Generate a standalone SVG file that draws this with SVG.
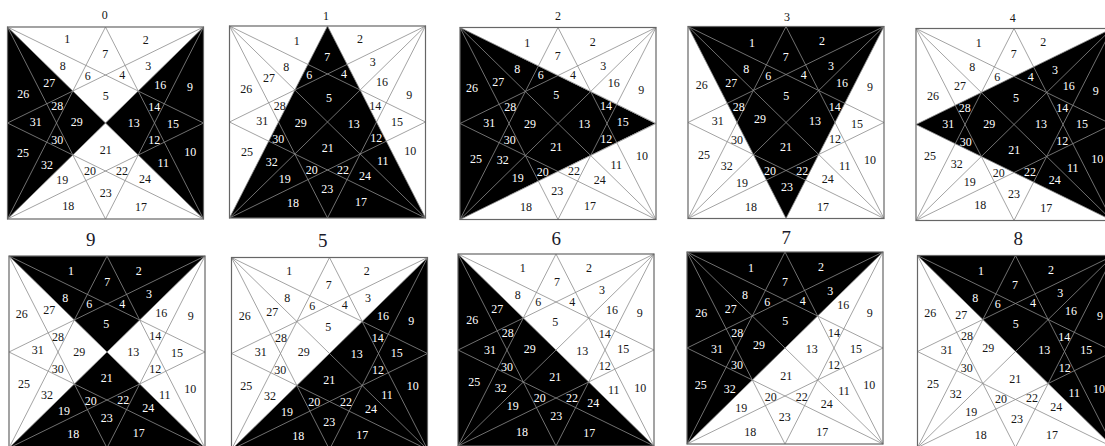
<svg xmlns="http://www.w3.org/2000/svg" width="1105" height="446" viewBox="0 0 1105 446">
<style>
.k{fill:#000;stroke:none}
.ln{stroke:#8c8c8c;stroke-width:.8;fill:none}
.box{stroke:#666;stroke-width:1.2;fill:none}
.t text{font-family:"Liberation Serif","Times New Roman",serif;font-size:36px;fill:#151515;text-anchor:middle;dominant-baseline:central}
.t text.w{fill:#fff}
.t text.s{fill:#1a1a2a;font-size:57px}
</style>
<defs>
<g id="star">
<path class="ln" d="M0 0L196 192M196 0L0 192M0 0L196 96M0 0L98 192M196 0L0 96M196 0L98 192M0 192L98 0M0 192L196 96M196 192L98 0M196 192L0 96"/>
<rect class="box" width="196" height="192"/>
</g>
</defs>
<rect width="1105" height="446" fill="#fff"/>

<g id="panel-0">
<g id="panel-0-shape" transform="translate(7.5,27)"><polygon class="k" points="0,0 98,96 0,192"/><polygon class="k" points="196,0 98,96 196,192"/><use href="#star"/></g>
<g class="t" transform="scale(.33333)">
<text x="314" y="45">0</text><text x="202" y="117">1</text><text x="437" y="120">2</text><text x="445" y="199">3</text><text x="367" y="226">4</text><text x="317" y="288">5</text><text x="263" y="228">6</text><text x="316" y="163">7</text><text x="188" y="197">8</text><text class="w" x="570" y="262">9</text><text class="w" x="571" y="456">10</text><text class="w" x="490" y="490">11</text><text class="w" x="463" y="419">12</text><text class="w" x="401" y="368">13</text><text class="w" x="463" y="321">14</text><text class="w" x="519" y="371">15</text><text class="w" x="481" y="256">16</text><text x="423" y="621">17</text><text x="205" y="619">18</text><text x="187" y="541">19</text><text x="270" y="514">20</text><text x="317" y="450">21</text><text x="366" y="514">22</text><text x="317" y="578">23</text><text x="435" y="537">24</text><text class="w" x="69" y="458">25</text><text class="w" x="70" y="281">26</text><text class="w" x="148" y="250">27</text><text class="w" x="172" y="318">28</text><text class="w" x="230" y="367">29</text><text class="w" x="172" y="419">30</text><text class="w" x="107" y="366">31</text><text class="w" x="141" y="496">32</text>
</g></g>

<g id="panel-1">
<g id="panel-1-shape" transform="translate(229.5,26)"><polygon class="k" points="0,192 98,0 196,192"/><use href="#star"/></g>
<g class="t" transform="translate(220,0) scale(.33333)">
<text x="318" y="47">1</text><text x="230" y="123">1</text><text x="420" y="118">2</text><text x="458" y="186">3</text><text class="w" x="372" y="223">4</text><text class="w" x="327" y="293">5</text><text class="w" x="268" y="224">6</text><text class="w" x="322" y="172">7</text><text x="199" y="200">8</text><text x="568" y="286">9</text><text x="571" y="452">10</text><text class="w" x="488" y="483">11</text><text class="w" x="469" y="413">12</text><text class="w" x="401" y="373">13</text><text x="466" y="318">14</text><text x="531" y="365">15</text><text x="486" y="247">16</text><text class="w" x="423" y="607">17</text><text class="w" x="219" y="608">18</text><text class="w" x="194" y="537">19</text><text class="w" x="275" y="509">20</text><text class="w" x="323" y="444">21</text><text class="w" x="369" y="509">22</text><text class="w" x="322" y="567">23</text><text class="w" x="435" y="528">24</text><text x="81" y="457">25</text><text x="79" y="267">26</text><text x="147" y="235">27</text><text x="179" y="317">28</text><text class="w" x="242" y="368">29</text><text class="w" x="175" y="416">30</text><text x="127" y="364">31</text><text class="w" x="155" y="486">32</text>
</g></g>

<g id="panel-2">
<g id="panel-2-shape" transform="translate(460,27.5)"><polygon class="k" points="0,0 195,96 0,192"/><use href="#star"/></g>
<g class="t" transform="translate(450,0) scale(.33333)">
<text x="324" y="47">2</text><text x="232" y="128">1</text><text x="428" y="125">2</text><text x="460" y="197">3</text><text x="369" y="226">4</text><text class="w" x="319" y="284">5</text><text class="w" x="272" y="226">6</text><text x="323" y="167">7</text><text class="w" x="202" y="207">8</text><text x="574" y="269">9</text><text x="576" y="469">10</text><text x="499" y="495">11</text><text class="w" x="469" y="418">12</text><text class="w" x="403" y="373">13</text><text class="w" x="468" y="318">14</text><text class="w" x="518" y="367">15</text><text x="491" y="249">16</text><text x="420" y="618">17</text><text x="228" y="620">18</text><text class="w" x="203" y="535">19</text><text class="w" x="278" y="516">20</text><text class="w" x="319" y="441">21</text><text x="372" y="513">22</text><text x="322" y="574">23</text><text x="449" y="541">24</text><text class="w" x="78" y="477">25</text><text class="w" x="66" y="263">26</text><text class="w" x="145" y="245">27</text><text class="w" x="181" y="321">28</text><text class="w" x="240" y="373">29</text><text class="w" x="179" y="419">30</text><text class="w" x="118" y="369">31</text><text class="w" x="158" y="481">32</text>
</g></g>

<g id="panel-3">
<g id="panel-3-shape" transform="translate(688,26.5)"><polygon class="k" points="0,0 196,0 98,192"/><use href="#star"/></g>
<g class="t" transform="translate(680,0) scale(.33333)">
<text x="321" y="52">3</text><text class="w" x="216" y="128">1</text><text class="w" x="426" y="124">2</text><text class="w" x="453" y="197">3</text><text class="w" x="371" y="226">4</text><text class="w" x="319" y="288">5</text><text class="w" x="265" y="228">6</text><text class="w" x="317" y="170">7</text><text class="w" x="199" y="207">8</text><text x="570" y="262">9</text><text x="570" y="479">10</text><text x="494" y="497">11</text><text x="465" y="418">12</text><text class="w" x="405" y="362">13</text><text class="w" x="464" y="322">14</text><text x="531" y="372">15</text><text class="w" x="486" y="250">16</text><text x="429" y="620">17</text><text x="213" y="620">18</text><text x="186" y="548">19</text><text class="w" x="270" y="514">20</text><text class="w" x="318" y="441">21</text><text class="w" x="367" y="514">22</text><text class="w" x="321" y="561">23</text><text x="443" y="536">24</text><text x="72" y="465">25</text><text x="65" y="255">26</text><text class="w" x="154" y="250">27</text><text class="w" x="176" y="321">28</text><text class="w" x="240" y="358">29</text><text x="171" y="420">30</text><text x="113" y="362">31</text><text x="140" y="497">32</text>
</g></g>

<g id="panel-4">
<g id="panel-4-shape" transform="translate(916,28.5)"><polygon class="k" points="0,96 196,0 196,192"/><use href="#star"/></g>
<g class="t" transform="translate(900,0) scale(.33333)">
<text x="338" y="54">4</text><text x="236" y="130">1</text><text x="430" y="127">2</text><text class="w" x="465" y="211">3</text><text class="w" x="392" y="230">4</text><text class="w" x="348" y="293">5</text><text x="292" y="230">6</text><text x="341" y="162">7</text><text x="217" y="200">8</text><text class="w" x="587" y="273">9</text><text class="w" x="592" y="477">10</text><text class="w" x="518" y="503">11</text><text class="w" x="487" y="422">12</text><text class="w" x="423" y="371">13</text><text class="w" x="487" y="325">14</text><text class="w" x="546" y="373">15</text><text class="w" x="506" y="258">16</text><text x="439" y="625">17</text><text x="241" y="616">18</text><text x="209" y="546">19</text><text x="296" y="518">20</text><text class="w" x="343" y="451">21</text><text class="w" x="390" y="517">22</text><text x="342" y="581">23</text><text class="w" x="464" y="539">24</text><text x="90" y="467">25</text><text x="99" y="287">26</text><text x="180" y="258">27</text><text class="w" x="194" y="323">28</text><text class="w" x="268" y="373">29</text><text class="w" x="197" y="427">30</text><text class="w" x="145" y="373">31</text><text x="170" y="492">32</text>
</g></g>

<g id="panel-9">
<g id="panel-9-shape" transform="translate(9,256)"><polygon class="k" points="0,0 196,0 98,96"/><polygon class="k" points="0,192 98,96 196,192"/><use href="#star"/></g>
<g class="t" transform="translate(0,225) scale(.33333)">
<text class="s" x="272" y="45">9</text><text class="w" x="213" y="137">1</text><text class="w" x="416" y="139">2</text><text class="w" x="447" y="208">3</text><text class="w" x="367" y="238">4</text><text class="w" x="319" y="297">5</text><text class="w" x="268" y="238">6</text><text class="w" x="322" y="172">7</text><text class="w" x="196" y="219">8</text><text x="572" y="274">9</text><text x="571" y="491">10</text><text x="494" y="510">11</text><text x="466" y="431">12</text><text x="400" y="381">13</text><text x="466" y="334">14</text><text x="531" y="385">15</text><text x="484" y="263">16</text><text class="w" x="416" y="623">17</text><text class="w" x="220" y="628">18</text><text class="w" x="192" y="557">19</text><text class="w" x="272" y="528">20</text><text class="w" x="320" y="458">21</text><text class="w" x="370" y="524">22</text><text class="w" x="320" y="580">23</text><text class="w" x="445" y="549">24</text><text x="72" y="478">25</text><text x="65" y="266">26</text><text x="148" y="256">27</text><text x="174" y="335">28</text><text x="238" y="380">29</text><text x="173" y="431">30</text><text x="113" y="375">31</text><text x="141" y="511">32</text>
</g></g>

<g id="panel-5">
<g id="panel-5-shape" transform="translate(231.5,257.5)"><polygon class="k" points="196,0 196,192 0,192"/><use href="#star"/></g>
<g class="t" transform="translate(222,225) scale(.33333)">
<text class="s" x="302" y="47">5</text><text x="202" y="137">1</text><text x="434" y="138">2</text><text x="438" y="220">3</text><text x="368" y="240">4</text><text x="319" y="306">5</text><text x="271" y="242">6</text><text x="320" y="179">7</text><text x="196" y="218">8</text><text class="w" x="568" y="289">9</text><text class="w" x="572" y="482">10</text><text class="w" x="495" y="510">11</text><text class="w" x="468" y="434">12</text><text class="w" x="404" y="388">13</text><text class="w" x="467" y="338">14</text><text class="w" x="524" y="383">15</text><text class="w" x="483" y="273">16</text><text class="w" x="421" y="630">17</text><text class="w" x="229" y="632">18</text><text class="w" x="195" y="561">19</text><text class="w" x="277" y="532">20</text><text class="w" x="322" y="464">21</text><text class="w" x="372" y="530">22</text><text class="w" x="322" y="590">23</text><text class="w" x="447" y="553">24</text><text x="73" y="482">25</text><text x="68" y="272">26</text><text x="151" y="261">27</text><text x="177" y="338">28</text><text x="245" y="382">29</text><text x="175" y="435">30</text><text x="116" y="381">31</text><text x="144" y="514">32</text>
</g></g>

<g id="panel-6">
<g id="panel-6-shape" transform="translate(458,254)"><polygon class="k" points="0,0 196,192 0,192"/><use href="#star"/></g>
<g class="t" transform="translate(450,225) scale(.33333)">
<text class="s" x="319" y="42">6</text><text x="218" y="130">1</text><text x="417" y="130">2</text><text x="456" y="194">3</text><text x="367" y="232">4</text><text x="316" y="290">5</text><text x="265" y="231">6</text><text x="321" y="170">7</text><text x="203" y="209">8</text><text x="569" y="265">9</text><text x="571" y="490">10</text><text x="491" y="496">11</text><text x="464" y="424">12</text><text x="397" y="377">13</text><text x="464" y="326">14</text><text x="520" y="371">15</text><text x="486" y="255">16</text><text class="w" x="418" y="624">17</text><text class="w" x="216" y="620">18</text><text class="w" x="188" y="542">19</text><text class="w" x="269" y="520">20</text><text class="w" x="316" y="455">21</text><text class="w" x="366" y="518">22</text><text class="w" x="319" y="573">23</text><text class="w" x="430" y="533">24</text><text class="w" x="73" y="471">25</text><text class="w" x="67" y="284">26</text><text class="w" x="142" y="251">27</text><text class="w" x="173" y="325">28</text><text class="w" x="239" y="373">29</text><text class="w" x="171" y="427">30</text><text class="w" x="120" y="376">31</text><text class="w" x="152" y="488">32</text>
</g></g>

<g id="panel-7">
<g id="panel-7-shape" transform="translate(687,252)"><polygon class="k" points="0,0 196,0 0,192"/><use href="#star"/></g>
<g class="t" transform="translate(680,225) scale(.33333)">
<text class="s" x="319" y="37">7</text><text class="w" x="213" y="130">1</text><text class="w" x="423" y="127">2</text><text class="w" x="451" y="197">3</text><text class="w" x="368" y="228">4</text><text class="w" x="316" y="289">5</text><text class="w" x="262" y="230">6</text><text class="w" x="315" y="170">7</text><text class="w" x="195" y="209">8</text><text x="569" y="263">9</text><text x="568" y="480">10</text><text x="492" y="498">11</text><text x="462" y="421">12</text><text x="395" y="373">13</text><text x="462" y="323">14</text><text x="528" y="373">15</text><text x="490" y="240">16</text><text x="427" y="620">17</text><text x="211" y="622">18</text><text x="184" y="550">19</text><text x="272" y="516">20</text><text x="319" y="452">21</text><text x="365" y="515">22</text><text x="314" y="577">23</text><text x="440" y="538">24</text><text class="w" x="62" y="479">25</text><text class="w" x="64" y="264">26</text><text class="w" x="152" y="252">27</text><text class="w" x="172" y="323">28</text><text class="w" x="237" y="360">29</text><text class="w" x="171" y="420">30</text><text class="w" x="111" y="371">31</text><text class="w" x="149" y="491">32</text>
</g></g>

<g id="panel-8">
<g id="panel-8-shape" transform="translate(917.5,255.5)"><polygon class="k" points="0,0 196,0 196,192 98,96"/><use href="#star"/></g>
<g class="t" transform="translate(905,225) scale(.33333)">
<text class="s" x="340" y="42">8</text><text class="w" x="228" y="138">1</text><text class="w" x="438" y="135">2</text><text class="w" x="466" y="205">3</text><text class="w" x="384" y="235">4</text><text class="w" x="332" y="298">5</text><text class="w" x="278" y="238">6</text><text class="w" x="330" y="180">7</text><text class="w" x="211" y="218">8</text><text class="w" x="585" y="272">9</text><text class="w" x="582" y="491">10</text><text class="w" x="508" y="505">11</text><text class="w" x="479" y="429">12</text><text class="w" x="418" y="375">13</text><text class="w" x="478" y="335">14</text><text class="w" x="544" y="375">15</text><text class="w" x="498" y="259">16</text><text x="441" y="631">17</text><text x="227" y="630">18</text><text x="199" y="560">19</text><text x="288" y="523">20</text><text x="331" y="461">21</text><text x="381" y="520">22</text><text x="336" y="582">23</text><text x="454" y="547">24</text><text x="84" y="476">25</text><text x="76" y="265">26</text><text x="169" y="269">27</text><text x="186" y="332">28</text><text x="250" y="368">29</text><text x="185" y="429">30</text><text x="125" y="374">31</text><text x="152" y="508">32</text>
</g></g>
</svg>
